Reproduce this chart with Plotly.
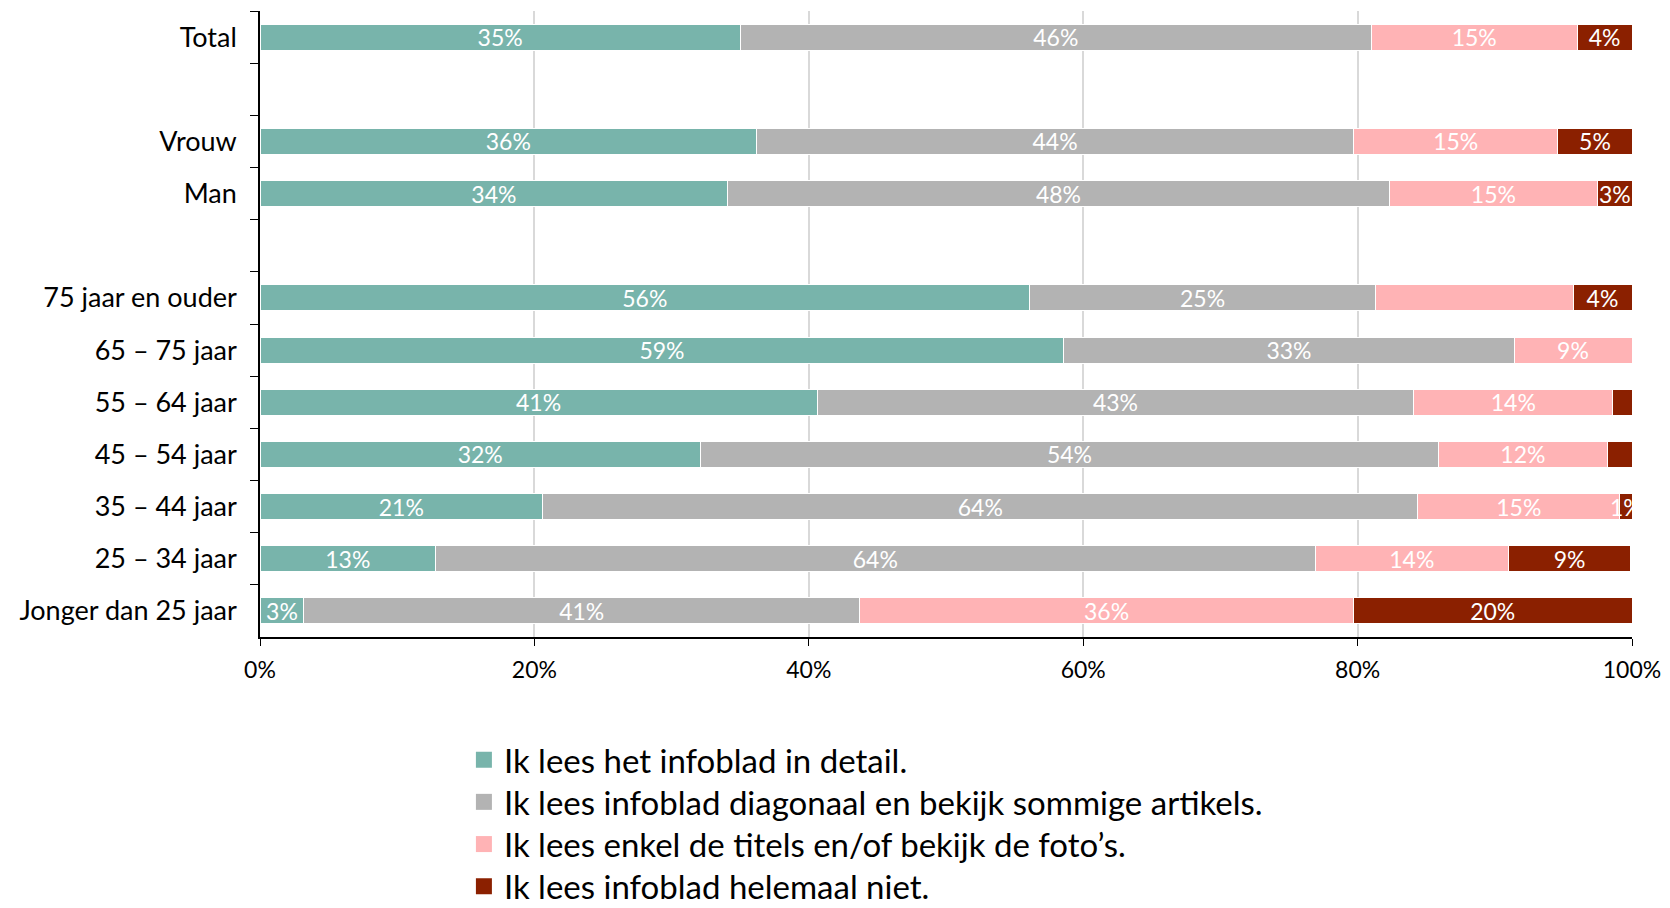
import plotly.graph_objects as go

categories = ["Total", " ", "Vrouw", "Man", "  ", "75 jaar en ouder", "65 – 75 jaar",
              "55 – 64 jaar", "45 – 54 jaar", "35 – 44 jaar", "25 – 34 jaar", "Jonger dan 25 jaar"]

series_names = ["Ik lees het infoblad in detail.",
                "Ik lees infoblad diagonaal en bekijk sommige artikels.",
                "Ik lees enkel de titels en/of bekijk de foto’s.",
                "Ik lees infoblad helemaal niet."]

detail =    [35.0, None, 36.2, 34.1, None, 56.1, 58.6, 40.6, 32.1, 20.6, 12.8, 3.2]
diagonaal = [46.0, None, 43.5, 48.2, None, 25.2, 32.8, 43.5, 53.8, 63.8, 64.1, 40.5]
titels =    [15.0, None, 14.9, 15.2, None, 14.4, 8.6, 14.5, 12.3, 14.7, 14.1, 36.0]
niet =      [4.0, None, 5.4, 2.5, None, 4.3, 0.0, 1.4, 1.9, 0.9, 8.9, 20.3]

labels_detail =    ["35%", "", "36%", "34%", "", "56%", "59%", "41%", "32%", "21%", "13%", "3%"]
labels_diagonaal = ["46%", "", "44%", "48%", "", "25%", "33%", "43%", "54%", "64%", "64%", "41%"]
labels_titels =    ["15%", "", "15%", "15%", "", "", "9%", "14%", "12%", "15%", "14%", "36%"]
labels_niet =      ["4%", "", "5%", "3%", "", "4%", "", "", "", "1%", "9%", "20%"]

colors = ["#78B4AB", "#B3B3B3", "#FFB3B5", "#8B2000"]

FONT = "Lato"

fig = go.Figure()
for name, vals, labs, col in zip(series_names,
                                  [detail, diagonaal, titels, niet],
                                  [labels_detail, labels_diagonaal, labels_titels, labels_niet],
                                  colors):
    fig.add_trace(go.Bar(
        y=categories, x=vals, name=name, orientation="h", showlegend=False,
        marker=dict(color=col, line=dict(color="white", width=1)),
        text=labs, textposition="inside", insidetextanchor="middle", textangle=0,
        textfont=dict(color="white", size=23, family=FONT),
        constraintext="none", cliponaxis=True,
    ))

# legend entries (square swatches), one legend per row for exact spacing
legend_ids = ["legend", "legend2", "legend3", "legend4"]
for name, col, lid in zip(series_names, colors, legend_ids):
    fig.add_trace(go.Scatter(
        x=[None], y=[None], mode="markers", name=name, legend=lid,
        marker=dict(symbol="square", size=20, color=col),
        showlegend=True, hoverinfo="skip",
    ))

legend_tops = [0.203, 0.1565, 0.110, 0.0635]
leg_common = dict(x=0.273, xref="container", xanchor="left", yref="container", yanchor="top",
                  font=dict(size=33, family=FONT), itemwidth=30, bgcolor="rgba(0,0,0,0)")

fig.update_layout(
    barmode="stack", bargap=0.5,
    width=1670, height=908,
    margin=dict(l=252, r=46, t=3, b=279, autoexpand=False),
    paper_bgcolor="white", plot_bgcolor="white",
    font=dict(family=FONT, color="black"),
    uniformtext=dict(mode="show", minsize=23),
    showlegend=True,
    legend=dict(y=legend_tops[0], **leg_common),
    legend2=dict(y=legend_tops[1], **leg_common),
    legend3=dict(y=legend_tops[2], **leg_common),
    legend4=dict(y=legend_tops[3], **leg_common),
)
fig.update_xaxes(range=[0, 100], tickvals=[0, 20, 40, 60, 80, 100],
                 ticktext=["0%", "20%", "40%", "60%", "80%", "100%"],
                 showgrid=True, gridcolor="#D9D9D9", gridwidth=1.5,
                 showline=True, linecolor="black", linewidth=1.5,
                 ticks="outside", ticklen=7, tickcolor="black", ticklabelstandoff=5,
                 tickfont=dict(size=23, family=FONT), zeroline=False, automargin=False)
fig.update_yaxes(type="category", categoryorder="array", categoryarray=categories,
                 autorange="reversed", tickson="boundaries",
                 showline=True, linecolor="black", linewidth=1.5,
                 ticks="outside", ticklen=8, tickcolor="black", ticklabelstandoff=16,
                 tickfont=dict(size=27, family=FONT), showgrid=False, automargin=False)

fig.write_html("out.html")
